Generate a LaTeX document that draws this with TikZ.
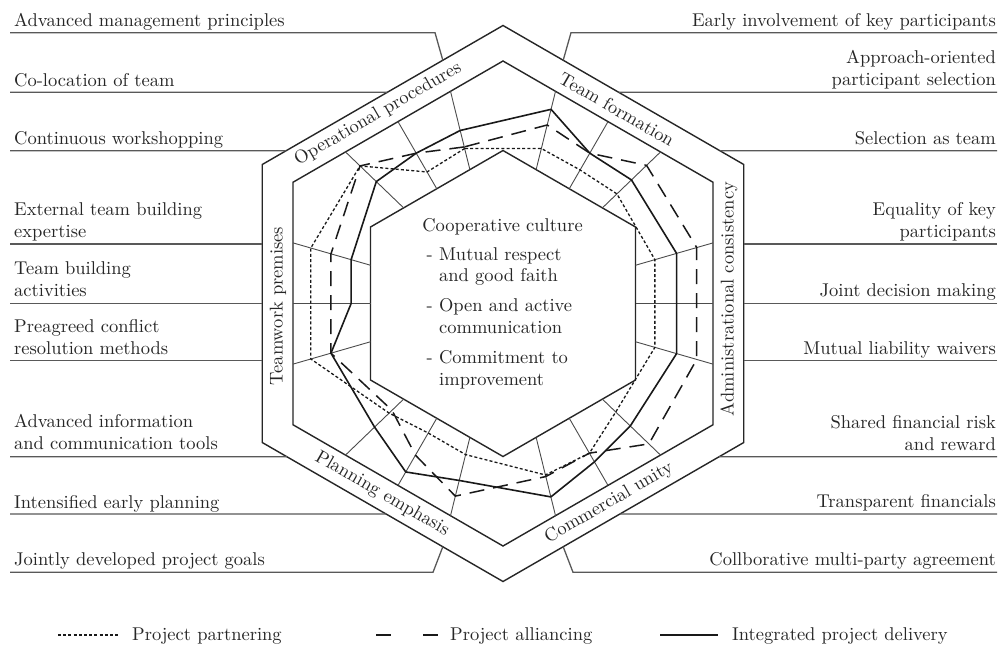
\documentclass[tikz,border=0pt]{standalone}
\usepackage{graphicx}
\usetikzlibrary{calc}
\newcommand\tx[1]{\scalebox{1.85}{#1}}
\begin{document}
\begin{tikzpicture}[x=1pt,y=-1pt,
  hexline/.style={line width=1.4pt, line join=miter, draw=black!85},
  spoke/.style={line width=0.9pt, draw=black!70},
  leader/.style={line width=1.3pt, draw=black!65},
  lbl/.style={font=\fontsize{10}{12}\selectfont, inner sep=0pt, text=black!85},
  ipd/.style={line width=1.6pt, line join=round, draw=black!90},
  pa/.style={line width=1.5pt, dash pattern=on 15pt off 9pt, draw=black!90},
  pp/.style={line width=1.3pt, dash pattern=on 3pt off 2.2pt, draw=black!90},
]
\useasboundingbox (0,0) rectangle (1003,646);
\fill[white] (0,0) rectangle (1003,646);

% hexagon vertices
\begin{scope}[shift={(503,303.5)}, yscale=-1]
\foreach \k in {0,...,5}{
  \coordinate (O\k) at ({90+60*\k}:278);
  \coordinate (H\k) at ({90+60*\k}:242.5);
  \coordinate (N\k) at ({90+60*\k}:153);
}
\end{scope}
% spoke end points
\foreach \k in {0,...,5}{
  \pgfmathtruncatemacro\nx{mod(\k+1,6)}
  \foreach \j/\f in {1/0.25,2/0.5,3/0.75}{
    \coordinate (I\k-\j) at ($(N\k)!\f!(N\nx)$);
    \coordinate (M\k-\j) at ($(H\k)!\f!(H\nx)$);
    \coordinate (P\k-\j) at ($(O\k)!\f!(O\nx)$);
  }
}

% hexagons
\draw[hexline] (O0)--(O1)--(O2)--(O3)--(O4)--(O5)--cycle;
\draw[hexline] (H0)--(H1)--(H2)--(H3)--(H4)--(H5)--cycle;
\draw[hexline] (N0)--(N1)--(N2)--(N3)--(N4)--(N5)--cycle;
% spokes
\foreach \k in {0,...,5}{\foreach \j in {1,2,3}{\draw[spoke] (I\k-\j) -- (M\k-\j);}}

% series points
\foreach \k/\j/\v in {0/1/0.50,0/2/0.53,0/3/0.47,1/1/0.25,1/2/0.25,1/3/0.51,2/1/0.50,2/2/0.80,2/3/0.55,3/1/0.76,3/2/0.65,3/3/0.48,4/1/0.53,4/2/0.53,4/3/0.53,5/1/0.50,5/2/0.53,5/3/0.77}
  \coordinate (A\k-\j) at ($(I\k-\j)!\v!(M\k-\j)$);
\foreach \k/\j/\v in {0/1/0.29,0/2/0.53,0/3/0.75,1/1/0.51,1/2/0.51,1/3/0.51,2/1/0.20,2/2/0.55,2/3/0.75,3/1/0.50,3/2/0.52,3/3/0.80,4/1/0.79,4/2/0.79,4/3/0.79,5/1/0.76,5/2/0.53,5/3/0.57}
  \coordinate (B\k-\j) at ($(I\k-\j)!\v!(M\k-\j)$);
\foreach \k/\j/\v in {0/1/0.27,0/2/0.25,0/3/0.75,1/1/0.77,1/2/0.77,1/3/0.77,2/1/0.25,2/2/0.22,2/3/0.22,3/1/0.48,3/2/0.52,3/3/0.23,4/1/0.25,4/2/0.25,4/3/0.25,5/1/0.25,5/2/0.28,5/3/0.27}
  \coordinate (D\k-\j) at ($(I\k-\j)!\v!(M\k-\j)$);

\draw[pp] (D0-1)--(D0-2)--(D0-3)--(D1-1)--(D1-2)--(D1-3)--(D2-1)--(D2-2)--(D2-3)--(D3-1)--(D3-2)--(D3-3)--(D4-1)--(D4-2)--(D4-3)--(D5-1)--(D5-2)--(D5-3)--cycle;
\draw[pa] (B0-1)--(B0-2)--(B0-3)--(B1-1)--(B1-2)--(B1-3)--(B2-1)--(B2-2)--(B2-3)--(B3-1)--(B3-2)--(B3-3)--(B4-1)--(B4-2)--(B4-3)--(B5-1)--(B5-2)--(B5-3)--cycle;
\draw[ipd] (A0-1)--(A0-2)--(A0-3)--(A1-1)--(A1-2)--(A1-3)--(A2-1)--(A2-2)--(A2-3)--(A3-1)--(A3-2)--(A3-3)--(A4-1)--(A4-2)--(A4-3)--(A5-1)--(A5-2)--(A5-3)--cycle;

% band labels
\node[lbl, rotate=30] (bOP) at (378,114) {\tx{Operational procedures}};
\node[lbl, rotate=-30] (bTF) at (617,109) {\tx{Team formation}};
\node[lbl, rotate=90] (bTP) at (278,306) {\tx{Teamwork premises}};
\node[lbl, rotate=90] (bAC) at (729,299) {\tx{Administrational consistency}};
\node[lbl, rotate=-30] (bPE) at (382,494) {\tx{Planning emphasis}};
\node[lbl, rotate=30] (bCU) at (609,503) {\tx{Commercial unity}};

% centre text
\node[lbl, anchor=base] (c0) at (502.5,231.7) {\tx{Cooperative culture}};
\node[lbl, anchor=base west] (c1) at (426.5,260) {\tx{- Mutual respect}};
\node[lbl, anchor=base west] (c1b) at (439,281.7) {\tx{and good faith}};
\node[lbl, anchor=base west] (c2) at (426.5,311.7) {\tx{- Open and active}};
\node[lbl, anchor=base west] (c2b) at (439,333.3) {\tx{communication}};
\node[lbl, anchor=base west] (c3) at (426.5,363.3) {\tx{- Commitment to}};
\node[lbl, anchor=base west] (c3b) at (439,385) {\tx{improvement}};

% left leaders
\coordinate (L1) at (10,32.7);  \coordinate (L1k) at (435,32.7);
\coordinate (L2) at (10,92.3);  \coordinate (L2e) at ($(O0)!0.4806!(O1)$);
\coordinate (L3) at (10,150.7); \coordinate (L3e) at ($(O0)!0.9007!(O1)$);
\coordinate (L4) at (10,244);
\coordinate (L5) at (10,303.3);
\coordinate (L6) at (10,360.7);
\coordinate (L7) at (10,456.7); \coordinate (L7e) at ($(O2)!0.1022!(O3)$);
\coordinate (L8) at (10,514);   \coordinate (L8e) at ($(O2)!0.5144!(O3)$);
\coordinate (L9) at (10,572.3); \coordinate (L9k) at (433,572.3);
\draw[leader] (L1) -- (L1k) -- (P0-1);
\draw[leader] (L2) -- (L2e);
\draw[leader] (L3) -- (L3e);
\draw[leader] (L4) -- (L4 -| O1);
\draw[leader] (L5) -- (L5 -| O1);
\draw[leader] (L6) -- (L6 -| O1);
\draw[leader] (L7) -- (L7e);
\draw[leader] (L8) -- (L8e);
\draw[leader] (L9) -- (L9k) -- (P2-3);

% right leaders
\coordinate (R1) at (997,32.7);  \coordinate (R1k) at (571,32.7);
\coordinate (R2) at (997,92.3);  \coordinate (R2e) at ($(O0)!0.4806!(O5)$);
\coordinate (R3) at (997,150.7); \coordinate (R3e) at ($(O0)!0.9007!(O5)$);
\coordinate (R4) at (997,244);
\coordinate (R5) at (997,303.3);
\coordinate (R6) at (997,360.7);
\coordinate (R7) at (997,456.7); \coordinate (R7e) at ($(O4)!0.1022!(O3)$);
\coordinate (R8) at (997,514);   \coordinate (R8e) at ($(O4)!0.5144!(O3)$);
\coordinate (R9) at (997,572.3); \coordinate (R9k) at (573,572.3);
\draw[leader] (R1) -- (R1k) -- (P5-3);
\draw[leader] (R2) -- (R2e);
\draw[leader] (R3) -- (R3e);
\draw[leader] (R4) -- (R4 -| O5);
\draw[leader] (R5) -- (R5 -| O5);
\draw[leader] (R6) -- (R6 -| O5);
\draw[leader] (R7) -- (R7e);
\draw[leader] (R8) -- (R8e);
\draw[leader] (R9) -- (R9k) -- (P3-1);

% left labels
\node[lbl, anchor=base west] (t1) at (14,26.5) {\tx{Advanced management principles}};
\node[lbl, anchor=base west] (t2) at (14,86) {\tx{Co-location of team}};
\node[lbl, anchor=base west] (t3) at (14,144.3) {\tx{Continuous workshopping}};
\node[lbl, anchor=base west] (t4) at (14,215) {\tx{External team building}};
\node[lbl, anchor=base west] (t4b) at (14,237) {\tx{expertise}};
\node[lbl, anchor=base west] (t5) at (14,274.5) {\tx{Team building}};
\node[lbl, anchor=base west] (t5b) at (14,296.5) {\tx{activities}};
\node[lbl, anchor=base west] (t6) at (14,332) {\tx{Preagreed conflict}};
\node[lbl, anchor=base west] (t6b) at (14,354) {\tx{resolution methods}};
\node[lbl, anchor=base west] (t7) at (14,427) {\tx{Advanced information}};
\node[lbl, anchor=base west] (t7b) at (14,449) {\tx{and communication tools}};
\node[lbl, anchor=base west] (t8) at (14,508) {\tx{Intensified early planning}};
\node[lbl, anchor=base west] (t9) at (14,565.5) {\tx{Jointly developed project goals}};

% right labels
\node[lbl, anchor=base east] (r1) at (996,26.5) {\tx{Early involvement of key participants}};
\node[lbl, anchor=base east] (r2) at (996,63.5) {\tx{Approach-oriented}};
\node[lbl, anchor=base east] (r2b) at (996,85.5) {\tx{participant selection}};
\node[lbl, anchor=base east] (r3) at (996,144.3) {\tx{Selection as team}};
\node[lbl, anchor=base east] (r4) at (996,215) {\tx{Equality of key}};
\node[lbl, anchor=base east] (r4b) at (996,237) {\tx{participants}};
\node[lbl, anchor=base east] (r5) at (996,296.8) {\tx{Joint decision making}};
\node[lbl, anchor=base east] (r6) at (996,354.2) {\tx{Mutual liability waivers}};
\node[lbl, anchor=base east] (r7) at (996,428) {\tx{Shared financial risk}};
\node[lbl, anchor=base east] (r7b) at (996,450) {\tx{and reward}};
\node[lbl, anchor=base east] (r8) at (996,507.5) {\tx{Transparent financials}};
\node[lbl, anchor=base east] (r9) at (996,565.8) {\tx{Collborative multi-party agreement}};

% legend
\coordinate (g1a) at (58,635);  \coordinate (g1b) at (118,635);
\coordinate (g2a) at (376,635); \coordinate (g2b) at (438,635);
\coordinate (g3a) at (660,635); \coordinate (g3b) at (718,635);
\draw[pp] (g1a) -- (g1b);
\node[lbl, anchor=base west] (k1) at (132,640.5) {\tx{Project partnering}};
\draw[pa, dash pattern=on 15pt off 32pt] (g2a) -- (g2b);
\node[lbl, anchor=base west] (k2) at (450,640.5) {\tx{Project alliancing}};
\draw[ipd] (g3a) -- (g3b);
\node[lbl, anchor=base west] (k3) at (732,640.5) {\tx{Integrated project delivery}};
\end{tikzpicture}
\end{document}
